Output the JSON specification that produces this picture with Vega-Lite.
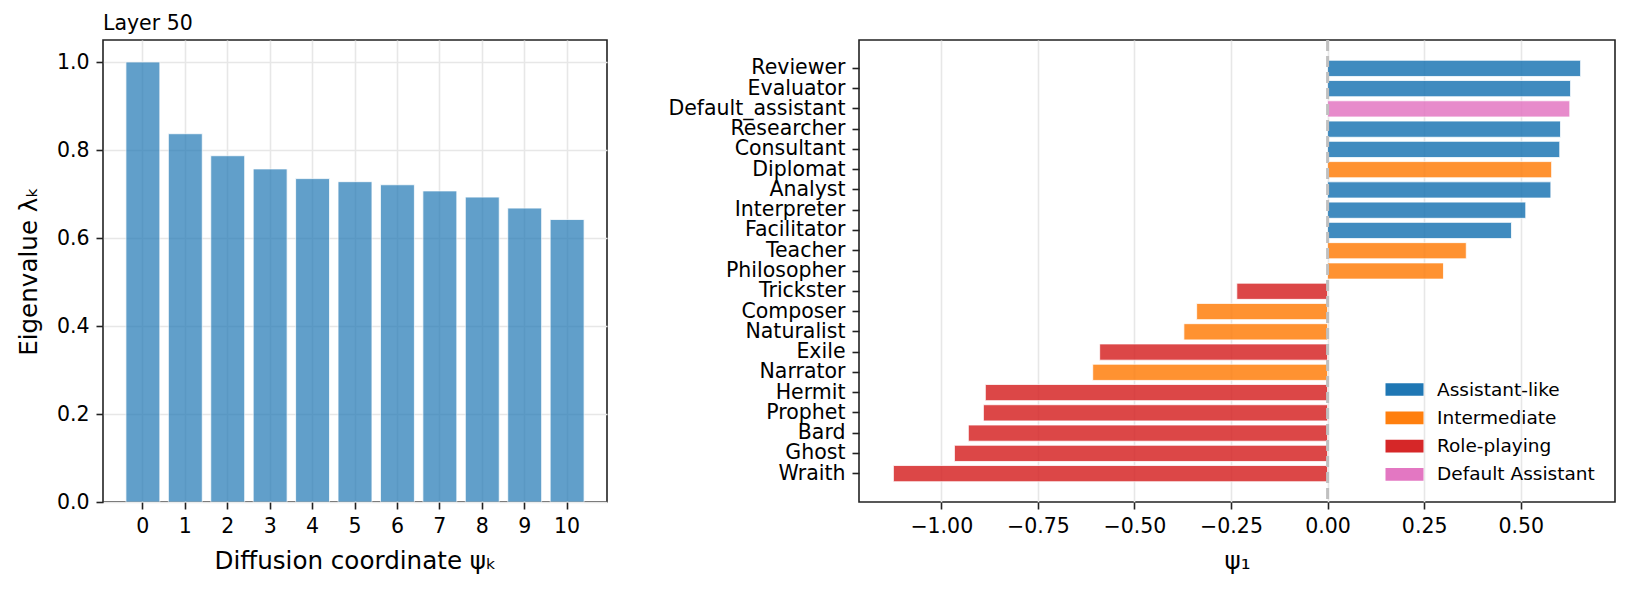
{
  "$schema": "https://vega.github.io/schema/vega-lite/v6.json",
  "padding": {"left": 15, "top": 12, "right": 5, "bottom": 5},
  "background": "white",
  "config": {
    "font": "DejaVu Sans",
    "view": {"stroke": "#222", "strokeWidth": 1.6},
    "axis": {
      "domain": false,
      "tickColor": "#222",
      "tickWidth": 1.6,
      "tickSize": 7,
      "labelPadding": 7,
      "labelFont": "DejaVu Sans",
      "labelFontSize": 20.5,
      "labelColor": "#000",
      "titleFont": "DejaVu Sans",
      "titleFontSize": 24.6,
      "titleFontWeight": "normal",
      "titleColor": "#000",
      "titlePadding": 13,
      "gridColor": "#e7e7e7",
      "gridWidth": 1.6
    },
    "legend": {
      "symbolType": "M-2,-0.667H2V0.667H-2Z",
      "symbolSize": 361,
      "symbolStrokeWidth": 0,
      "labelFont": "DejaVu Sans",
      "labelFontSize": 18.5,
      "labelColor": "#000",
      "labelOffset": 23,
      "rowPadding": 9.3,
      "padding": 0
    }
  },
  "resolve": {"legend": {"color": "independent"}, "scale": {"color": "independent"}},
  "spacing": 59,
  "hconcat": [
    {
      "width": 504,
      "height": 462,
      "title": {"text": "Layer 50", "anchor": "start", "frame": "group", "fontSize": 20.5, "fontWeight": "normal", "offset": -10, "baseline": "alphabetic", "color": "#000", "font": "DejaVu Sans"},
      "data": {"values": [
        {"k": 0, "lambda": 1.0},
        {"k": 1, "lambda": 0.837},
        {"k": 2, "lambda": 0.787},
        {"k": 3, "lambda": 0.757},
        {"k": 4, "lambda": 0.735},
        {"k": 5, "lambda": 0.728},
        {"k": 6, "lambda": 0.721},
        {"k": 7, "lambda": 0.707},
        {"k": 8, "lambda": 0.693},
        {"k": 9, "lambda": 0.668},
        {"k": 10, "lambda": 0.642}
      ]},
      "mark": {"type": "bar", "color": "#1f77b4", "opacity": 0.7, "stroke": "white", "strokeWidth": 0.8},
      "encoding": {
        "x": {"field": "k", "type": "ordinal", "sort": null,
              "scale": {"paddingInner": 0.2, "paddingOuter": 0.54},
              "axis": {"labelAngle": 0, "grid": true, "title": "Diffusion coordinate ψₖ"}},
        "y": {"field": "lambda", "type": "quantitative",
              "scale": {"domain": [0, 1.05], "nice": false},
              "axis": {"values": [0, 0.2, 0.4, 0.6, 0.8, 1.0], "format": ".1f", "grid": true, "titlePadding": 15, "title": "Eigenvalue λₖ"}}
      }
    },
    {
      "width": 756,
      "height": 462,
      "layer": [
        {
          "data": {"values": [
            {"persona": "Reviewer", "psi1": 0.655, "group": "Assistant-like"},
            {"persona": "Evaluator", "psi1": 0.629, "group": "Assistant-like"},
            {"persona": "Default_assistant", "psi1": 0.627, "group": "Default Assistant"},
            {"persona": "Researcher", "psi1": 0.603, "group": "Assistant-like"},
            {"persona": "Consultant", "psi1": 0.601, "group": "Assistant-like"},
            {"persona": "Diplomat", "psi1": 0.58, "group": "Intermediate"},
            {"persona": "Analyst", "psi1": 0.578, "group": "Assistant-like"},
            {"persona": "Interpreter", "psi1": 0.513, "group": "Assistant-like"},
            {"persona": "Facilitator", "psi1": 0.476, "group": "Assistant-like"},
            {"persona": "Teacher", "psi1": 0.359, "group": "Intermediate"},
            {"persona": "Philosopher", "psi1": 0.3, "group": "Intermediate"},
            {"persona": "Trickster", "psi1": -0.235, "group": "Role-playing"},
            {"persona": "Composer", "psi1": -0.339, "group": "Intermediate"},
            {"persona": "Naturalist", "psi1": -0.372, "group": "Intermediate"},
            {"persona": "Exile", "psi1": -0.59, "group": "Role-playing"},
            {"persona": "Narrator", "psi1": -0.608, "group": "Intermediate"},
            {"persona": "Hermit", "psi1": -0.886, "group": "Role-playing"},
            {"persona": "Prophet", "psi1": -0.891, "group": "Role-playing"},
            {"persona": "Bard", "psi1": -0.93, "group": "Role-playing"},
            {"persona": "Ghost", "psi1": -0.966, "group": "Role-playing"},
            {"persona": "Wraith", "psi1": -1.124, "group": "Role-playing"}
          ]},
          "mark": {"type": "bar", "opacity": 0.85, "stroke": "white", "strokeWidth": 0.8},
          "encoding": {
            "y": {"field": "persona", "type": "nominal", "sort": null,
                  "scale": {"paddingInner": 0.2, "paddingOuter": 1.04},
                  "axis": {"title": null, "grid": false}},
            "x": {"field": "psi1", "type": "quantitative",
                  "scale": {"domain": [-1.213, 0.744], "nice": false, "zero": false},
                  "axis": {"values": [-1, -0.75, -0.5, -0.25, 0, 0.25, 0.5], "format": ".2f", "grid": true, "title": "ψ₁"}},
            "color": {"field": "group", "type": "nominal",
                      "scale": {"domain": ["Assistant-like", "Intermediate", "Role-playing", "Default Assistant"],
                                "range": ["#1f77b4", "#ff7f0e", "#d62728", "#e377c2"]},
                      "legend": {"title": null, "orient": "none", "legendX": 536, "legendY": 340, "symbolOpacity": 1}}
          }
        },
        {
          "data": {"values": [{}]},
          "mark": {"type": "rule", "color": "#c0c0c0", "strokeWidth": 3, "strokeDash": [11, 5]},
          "encoding": {"x": {"datum": 0}}
        }
      ]
    }
  ]
}
